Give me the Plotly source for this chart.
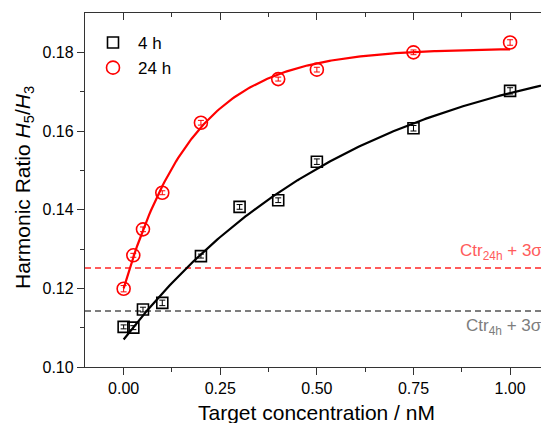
import numpy as np
import plotly.graph_objects as go

# ---- data ----
conc_4h = [0.0, 0.025, 0.05, 0.1, 0.2, 0.3, 0.4, 0.5, 0.75, 1.0]
ratio_4h = [0.1102, 0.1100, 0.1146, 0.1163, 0.1282, 0.1407, 0.1424, 0.1522, 0.1607, 0.1702]
err_4h = [0.0005, 0.0005, 0.0006, 0.0007, 0.0005, 0.0006, 0.0006, 0.0007, 0.0007, 0.0008]

conc_24h = [0.0, 0.025, 0.05, 0.1, 0.2, 0.4, 0.5, 0.75, 1.0]
ratio_24h = [0.1199, 0.1284, 0.1350, 0.1443, 0.1621, 0.1732, 0.1756, 0.1800, 0.1825]
err_24h = [0.0008, 0.0005, 0.0006, 0.0005, 0.0006, 0.0005, 0.0006, 0.0006, 0.0007]

# exponential saturation fit parameters y = A - B*exp(-x/t)
fit_4h = dict(A=0.1850, B=0.0780, t=0.615, xmax=1.12)
fit_24h = dict(A=0.1810, B=0.0610, t=0.180, xmax=1.0)

ctr_24h = 0.1252
ctr_4h = 0.11425

x_ticks = [0.0, 0.25, 0.5, 0.75, 1.0]
x_ticklabels = ["0.00", "0.25", "0.50", "0.75", "1.00"]
y_ticks = [0.10, 0.12, 0.14, 0.16, 0.18]
y_ticklabels = ["0.10", "0.12", "0.14", "0.16", "0.18"]

FONT = "Liberation Sans, Arial, sans-serif"
XR = [-0.1, 1.08]
YR = [0.10, 0.19]

W, H = 541, 423
ML, MR, MT, MB = 85, 0, 13, 56
PW, PH = W - ML - MR, H - MT - MB


def fit_curve(p):
    xs = np.linspace(0, p["xmax"], 200)
    return xs, p["A"] - p["B"] * np.exp(-xs / p["t"])


fig = go.Figure()

# control lines
fig.add_trace(go.Scatter(x=XR, y=[ctr_24h, ctr_24h], mode="lines",
                         line=dict(color="#ff5b5b", width=2, dash="6px,4px"),
                         showlegend=False, hoverinfo="skip"))
fig.add_trace(go.Scatter(x=XR, y=[ctr_4h, ctr_4h], mode="lines",
                         line=dict(color="#7d7d7d", width=2, dash="6px,4px"),
                         showlegend=False, hoverinfo="skip"))

# fits
fx, fy = fit_curve(fit_4h)
fig.add_trace(go.Scatter(x=fx, y=fy, mode="lines", line=dict(color="black", width=2.2),
                         showlegend=False, hoverinfo="skip"))
fx, fy = fit_curve(fit_24h)
fig.add_trace(go.Scatter(x=fx, y=fy, mode="lines", line=dict(color="#ff0000", width=2.2),
                         showlegend=False, hoverinfo="skip"))

# data
fig.add_trace(go.Scatter(x=conc_4h, y=ratio_4h, mode="markers", name="4 h",
                         marker=dict(symbol="square-open", size=11, color="black",
                                     line=dict(width=1.6, color="black")),
                         error_y=dict(type="data", array=err_4h, color="black",
                                      thickness=1, width=3)))
fig.add_trace(go.Scatter(x=conc_24h, y=ratio_24h, mode="markers", name="24 h",
                         marker=dict(symbol="circle-open", size=13, color="#ff0000",
                                     line=dict(width=1.6, color="#ff0000")),
                         error_y=dict(type="data", array=err_24h, color="#ff0000",
                                      thickness=1, width=3)))

# invisible trace for top axis
fig.add_trace(go.Scatter(x=[None], y=[None], xaxis="x2", showlegend=False, hoverinfo="skip"))

axis_common = dict(showline=True, linecolor="#333333", linewidth=1.3,
                   tickcolor="#333333", tickwidth=1.3, showgrid=False, zeroline=False,
                   automargin=False,
                   tickfont=dict(family=FONT, size=16, color="black"))

fig.update_layout(
    width=W, height=H,
    margin=dict(l=ML, r=MR, t=MT, b=MB, autoexpand=False),
    paper_bgcolor="white", plot_bgcolor="white",
    font=dict(family=FONT, color="black"),
    xaxis=dict(range=XR, tickmode="array", tickvals=x_ticks, ticktext=x_ticklabels,
               ticks="outside", ticklen=7,
               minor=dict(tickvals=[0.125, 0.375, 0.625, 0.875], ticks="outside",
                          ticklen=4, tickcolor="#333333", tickwidth=1.3),
               **axis_common),
    xaxis2=dict(range=XR, overlaying="x", side="top", anchor="y", tickmode="array",
                tickvals=x_ticks, showticklabels=False, ticks="inside", ticklen=7,
                minor=dict(tickvals=[0.125, 0.375, 0.625, 0.875], ticks="inside",
                           ticklen=4, tickcolor="#333333", tickwidth=1.3),
                **axis_common),
    yaxis=dict(range=YR, tickmode="array", tickvals=y_ticks, ticktext=y_ticklabels,
               ticks="outside", ticklen=7,
               minor=dict(tickvals=[0.11, 0.13, 0.15, 0.17], ticks="outside",
                          ticklen=4, tickcolor="#333333", tickwidth=1.3),
               **axis_common),
    legend=dict(x=(88 - ML) / PW, y=(MT + PH - 25) / PH, xanchor="left", yanchor="top",
                bgcolor="rgba(0,0,0,0)", font=dict(family=FONT, size=17),
                tracegroupgap=0, itemsizing="trace", itemwidth=40),
    showlegend=True,
)

annotations = [
    dict(text="Target concentration / nM", x=(316 - ML) / PW, xref="paper",
         y=-(412 - MT - PH) / PH, yref="paper",
         xanchor="center", yanchor="middle", showarrow=False,
         font=dict(family=FONT, size=21, color="black")),
    dict(text="Harmonic Ratio <i>H</i><sub>5</sub>/<i>H</i><sub>3</sub>", x=(24 - ML) / PW,
         xref="paper", y=(MT + PH - 188) / PH, yref="paper", textangle=-90, showarrow=False,
         xanchor="center", yanchor="middle",
         font=dict(family=FONT, size=21, color="black")),
    dict(text="Ctr<sub>24h</sub> + 3σ", x=1.0, xref="paper", y=ctr_24h, yref="y",
         xanchor="right", yanchor="bottom", yshift=3, xshift=3, showarrow=False,
         font=dict(family=FONT, size=17, color="#ff5b5b")),
    dict(text="Ctr<sub>4h</sub> + 3σ", x=1.0, xref="paper", y=ctr_4h, yref="y",
         xanchor="right", yanchor="top", yshift=-3, xshift=3, showarrow=False,
         font=dict(family=FONT, size=17, color="#7d7d7d")),
]
fig.update_layout(annotations=annotations)

fig.write_html("out.html", config={"displayModeBar": False})

# remove the default browser body margin so the figure sits at the page origin
with open("out.html", "r", encoding="utf-8") as f:
    html = f.read()
html = html.replace("<head>", "<head><style>html,body{margin:0;padding:0;overflow:hidden;}</style>", 1)
with open("out.html", "w", encoding="utf-8") as f:
    f.write(html)
